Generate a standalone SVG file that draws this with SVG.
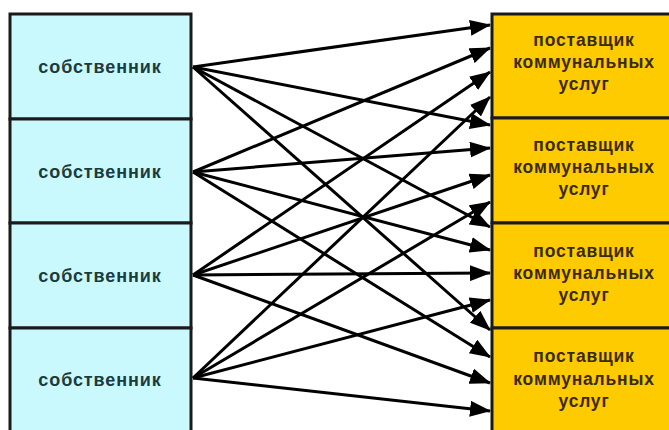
<svg xmlns="http://www.w3.org/2000/svg" width="669" height="430" viewBox="0 0 669 430">
<style>
.own{fill:#c9f9fd;stroke:#1a1a1a;stroke-width:3}
.sup{fill:#fecb00;stroke:#1a1a1a;stroke-width:3}
.lt{font-family:"Liberation Sans",Arial,sans-serif;font-weight:bold;font-size:18px;fill:#1d3a3e;text-anchor:middle;letter-spacing:0.9px}
.rt{font-family:"Liberation Sans",Arial,sans-serif;font-weight:bold;font-size:17.5px;fill:#3a2a08;text-anchor:middle;letter-spacing:0.8px}
.c{stroke:#000;stroke-width:3;fill:none;marker-end:url(#ah)}
</style>
<defs>
<marker id="ah" markerUnits="userSpaceOnUse" markerWidth="21" markerHeight="16" refX="20" refY="8" orient="auto">
<path d="M0,0 L21,8 L0,16 Z" fill="#000"/>
</marker>
</defs>
<rect width="669" height="430" fill="#fff"/>
<g id="owner1"><rect class="own" x="10" y="14" width="181" height="105"/><text class="lt" x="100" y="73">собственник</text></g>
<g id="owner2"><rect class="own" x="10" y="119" width="181" height="104"/><text class="lt" x="100" y="178">собственник</text></g>
<g id="owner3"><rect class="own" x="10" y="223" width="181" height="105"/><text class="lt" x="100" y="282">собственник</text></g>
<g id="owner4"><rect class="own" x="10" y="328" width="181" height="106"/><text class="lt" x="100" y="386">собственник</text></g>
<g id="supplier1"><rect class="sup" x="492" y="14" width="190" height="104"/><text class="rt" x="584" y="46">поставщик</text><text class="rt" x="584" y="68">коммунальных</text><text class="rt" x="584" y="90">услуг</text></g>
<g id="supplier2"><rect class="sup" x="492" y="118" width="190" height="105"/><text class="rt" x="584" y="151">поставщик</text><text class="rt" x="584" y="173">коммунальных</text><text class="rt" x="584" y="195">услуг</text></g>
<g id="supplier3"><rect class="sup" x="492" y="223" width="190" height="105"/><text class="rt" x="584" y="257">поставщик</text><text class="rt" x="584" y="279">коммунальных</text><text class="rt" x="584" y="301">услуг</text></g>
<g id="supplier4"><rect class="sup" x="492" y="328" width="190" height="106"/><text class="rt" x="584" y="362">поставщик</text><text class="rt" x="584" y="385">коммунальных</text><text class="rt" x="584" y="407">услуг</text></g>
<g id="connectors">
<line class="c" x1="193" y1="67" x2="490" y2="25"/>
<line class="c" x1="193" y1="67" x2="490" y2="125"/>
<line class="c" x1="193" y1="67" x2="490" y2="227"/>
<line class="c" x1="193" y1="67" x2="490" y2="330"/>
<line class="c" x1="193" y1="172" x2="490" y2="48"/>
<line class="c" x1="193" y1="172" x2="490" y2="148"/>
<line class="c" x1="193" y1="172" x2="490" y2="250"/>
<line class="c" x1="193" y1="172" x2="490" y2="357"/>
<line class="c" x1="193" y1="275" x2="490" y2="72"/>
<line class="c" x1="193" y1="275" x2="490" y2="175"/>
<line class="c" x1="193" y1="275" x2="490" y2="273"/>
<line class="c" x1="193" y1="275" x2="490" y2="383"/>
<line class="c" x1="193" y1="378" x2="490" y2="97"/>
<line class="c" x1="193" y1="378" x2="490" y2="202"/>
<line class="c" x1="193" y1="378" x2="490" y2="300"/>
<line class="c" x1="193" y1="378" x2="490" y2="411"/>
</g>
</svg>
